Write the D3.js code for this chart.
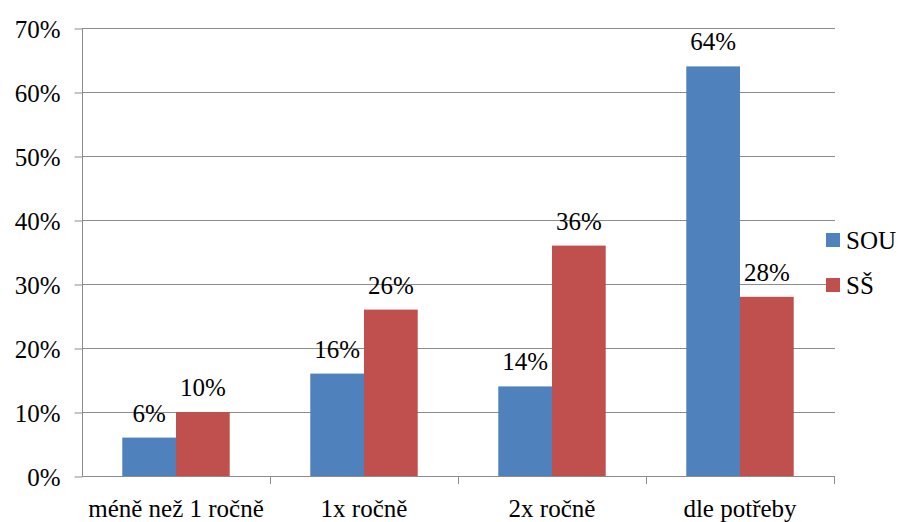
<!DOCTYPE html>
<html>
<head>
<meta charset="utf-8">
<script src="https://cdn.jsdelivr.net/npm/d3@7"></script>
<style>
  html, body { margin: 0; padding: 0; background: #fff; }
  svg { display: block; }
</style>
</head>
<body>
<svg id="chart" width="900" height="522"></svg>
<script>
// Survey answers by frequency, two school types
const categories = ["méně než 1 ročně", "1x ročně", "2x ročně", "dle potřeby"];
const seriesNames = ["SOU", "SŠ"];
const souValues = [0.06, 0.16, 0.14, 0.64];
const ssValues = [0.10, 0.26, 0.36, 0.28];
const yTicks = [0, 0.1, 0.2, 0.3, 0.4, 0.5, 0.6, 0.7];
const colors = ["#4F81BD", "#C0504D"];

const svg = d3.select("#chart");
const plotLeft = 82, plotRight = 834, plotTop = 28, plotBottom = 476;
const fontSize = 25;
const fontFamily = "Liberation Serif";

const x = d3.scaleBand().domain(categories).range([plotLeft, plotRight]).paddingInner(0).paddingOuter(0);
// two bars per group, gap width 150% of a bar split on both sides
const inner = d3.scaleBand().domain(seriesNames).range([0, x.bandwidth()]).paddingInner(0).paddingOuter(0.75);
const y = d3.scaleLinear().domain([0, 0.7]).range([plotBottom, plotTop]);

const gridColor = "#8c8c8c";

function styleText(sel) {
  sel.attr("font-family", fontFamily).style("font-family", fontFamily)
    .style("font-size", fontSize + "px").style("fill", "#000");
}

// horizontal gridlines
svg.append("g").selectAll("line").data(yTicks.filter(d => d > 0)).join("line")
  .attr("x1", plotLeft).attr("x2", plotRight + 1)
  .attr("y1", d => Math.round(y(d)) + 0.5).attr("y2", d => Math.round(y(d)) + 0.5)
  .attr("stroke", gridColor).attr("stroke-width", 1);

// y axis
const yAxis = d3.axisLeft(y).tickValues(yTicks).tickFormat(d3.format(".0%")).tickSize(8).tickPadding(14);
const gy = svg.append("g").attr("transform", `translate(${plotLeft + 0.5},0.5)`).call(yAxis)
  .attr("font-family", fontFamily);
gy.selectAll("path, line").attr("stroke", gridColor);
gy.select(".domain").attr("d", `M0,${plotTop}V${plotBottom}`);
gy.selectAll("text").call(styleText).attr("dy", "0.36em");

// bars
const data = categories.map((c, i) => ({ cat: c, values: [souValues[i], ssValues[i]] }));
const groups = svg.append("g").selectAll("g").data(data).join("g")
  .attr("transform", d => `translate(${x(d.cat)},0)`);

groups.selectAll("rect").data(d => d.values.map((v, j) => ({ name: seriesNames[j], v, j }))).join("rect")
  .attr("x", d => inner(d.name))
  .attr("width", inner.bandwidth())
  .attr("y", d => y(d.v))
  .attr("height", d => y(0) - y(d.v))
  .attr("fill", d => colors[d.j]);

// value labels
groups.selectAll("text.val").data(d => d.values.map((v, j) => ({ name: seriesNames[j], v, j }))).join("text")
  .attr("class", "val")
  .attr("x", d => inner(d.name) + inner.bandwidth() / 2)
  .attr("y", d => y(d.v) - 16)
  .attr("text-anchor", "middle")
  .call(styleText)
  .text(d => d3.format(".0%")(d.v));

// x axis
const xAxis = d3.axisBottom(x).tickSize(0).tickPadding(23);
const gx = svg.append("g").attr("transform", `translate(0,${plotBottom + 0.5})`).call(xAxis)
  .attr("font-family", fontFamily);
gx.select(".domain").attr("stroke", gridColor).attr("d", `M${plotLeft},0H${plotRight + 1}`);
gx.selectAll("text").call(styleText);
// category boundary ticks
svg.append("g").selectAll("line").data(categories.slice(1).map(c => x(c)).concat([plotRight]))
  .join("line")
  .attr("x1", d => Math.round(d) + 0.5).attr("x2", d => Math.round(d) + 0.5)
  .attr("y1", plotBottom).attr("y2", plotBottom + 8)
  .attr("stroke", gridColor);

// legend
const legend = svg.append("g").selectAll("g").data(seriesNames).join("g")
  .attr("transform", (d, i) => `translate(826,${233 + i * 45})`);
legend.append("rect").attr("width", 14).attr("height", 14).attr("fill", (d, i) => colors[i]);
legend.append("text").attr("x", 20).attr("y", 7).attr("dy", "0.36em")
  .call(styleText).text(d => d);
</script>
</body>
</html>
